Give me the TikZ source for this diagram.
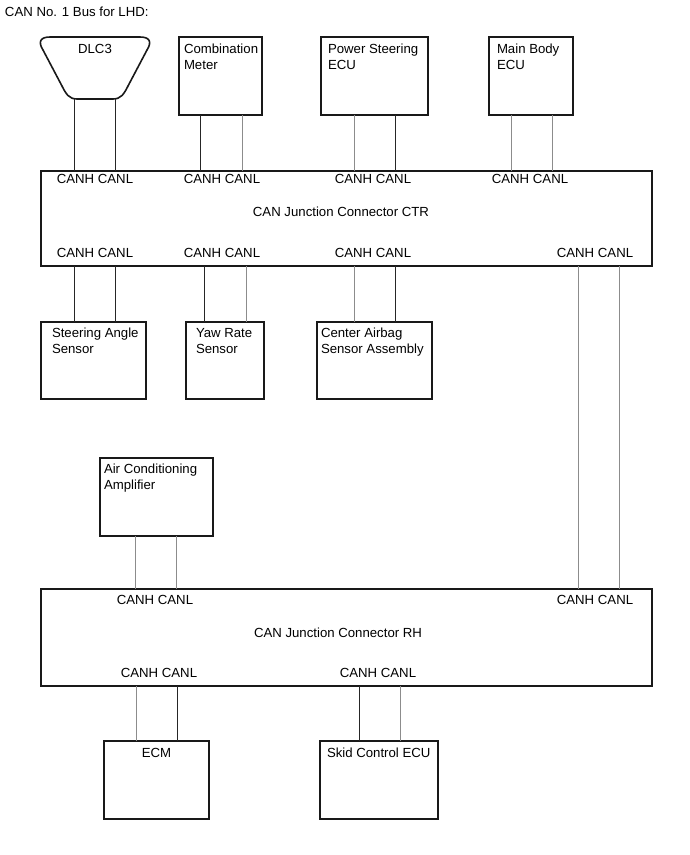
\documentclass[tikz,border=0pt]{standalone}
\usepackage{fontspec}
\setmainfont{Liberation Sans}
\begin{document}
\begin{tikzpicture}[x=1pt,y=-1pt,
  box/.style={draw=black!90, line width=1.6pt, rectangle, inner sep=0pt, outer sep=0pt, anchor=north west},
  txt/.style={inner sep=0pt, outer sep=0pt, font=\fontsize{13.2}{16}\selectfont, align=left},
  pin/.style={inner sep=0pt, outer sep=0pt, font=\fontsize{13.2}{16}\selectfont, anchor=north},
  wk/.style={draw=black!85, line width=0.9pt},
  wg/.style={draw=black!45, line width=0.9pt}]
\useasboundingbox (0,0) rectangle (690,855);

\node[txt, anchor=north west] (title) at (5,7) {CAN No. 1 Bus for LHD:};

% DLC3
\draw[draw=black!90, line width=1.6pt] (50,37) -- (140,37)
  .. controls (150,37) and (152,42) .. (147,50) -- (128,86)
  .. controls (124,94) and (121,99) .. (113,99) -- (77,99)
  .. controls (69,99) and (66,94) .. (62,86) -- (43,50)
  .. controls (38,42) and (40,37) .. (50,37) -- cycle;
\coordinate (dlc) at (95,99);
\node[txt, anchor=north] (dlct) at (95,44) {DLC3};

% top row boxes
\node[box, minimum width=83, minimum height=78] (comb) at (179,37) {};
\node[txt, anchor=north west] (combt) at (184,44) {Combination\\Meter};
\node[box, minimum width=107, minimum height=78] (ps) at (321,37) {};
\node[txt, anchor=north west] (pst) at (328,44) {Power Steering\\ECU};
\node[box, minimum width=84, minimum height=78] (mb) at (489,37) {};
\node[txt, anchor=north west] (mbt) at (497,44) {Main Body\\ECU};

% CTR junction
\node[box, minimum width=611, minimum height=95] (ctr) at (41,171) {};
\node[pin] (c1) at (95,174) {CANH\ CANL};
\node[pin] (c2) at (222,174) {CANH\ CANL};
\node[pin] (c3) at (373,174) {CANH\ CANL};
\node[pin] (c4) at (530,174) {CANH\ CANL};
\node[pin] (ctrt) at (341,207) {CAN Junction Connector CTR};
\node[pin] (c5) at (95,248) {CANH\ CANL};
\node[pin] (c6) at (222,248) {CANH\ CANL};
\node[pin] (c7) at (373,248) {CANH\ CANL};
\node[pin] (c8) at (595,248) {CANH\ CANL};

% sensors row
\node[box, minimum width=105, minimum height=77] (sas) at (41,322) {};
\node[txt, anchor=north west] (sast) at (52,328) {Steering Angle\\Sensor};
\node[box, minimum width=78, minimum height=77] (yaw) at (186,322) {};
\node[txt, anchor=north west] (yawt) at (196,328) {Yaw Rate\\Sensor};
\node[box, minimum width=115, minimum height=77] (cab) at (317,322) {};
\node[txt, anchor=north west] (cabt) at (321,328) {Center Airbag\\Sensor Assembly};

% AC amplifier
\node[box, minimum width=113, minimum height=78] (ac) at (100,458) {};
\node[txt, anchor=north west] (act) at (104,464) {Air Conditioning\\Amplifier};

% RH junction
\node[box, minimum width=611, minimum height=97] (rh) at (41,589) {};
\node[pin] (r1) at (155,595) {CANH\ CANL};
\node[pin] (r2) at (595,595) {CANH\ CANL};
\node[pin] (rht) at (338,628) {CAN Junction Connector RH};
\node[pin] (r3) at (159,668) {CANH\ CANL};
\node[pin] (r4) at (378,668) {CANH\ CANL};

% bottom boxes
\node[box, minimum width=105, minimum height=78] (ecm) at (104,741) {};
\node[pin] (ecmt) at (156.5,748) {ECM};
\node[box, minimum width=118, minimum height=78] (skid) at (320,741) {};
\node[txt, anchor=north west] (skidt) at (327,748) {Skid Control ECU};

% wires
\draw[wk] (dlc -| 74,0) -- (ctr.north -| 74,0);
\draw[wk] (dlc -| 115,0) -- (ctr.north -| 115,0);
\draw[wk] (comb.south -| 200,0) -- (ctr.north -| 200,0);
\draw[wg] (comb.south -| 242,0) -- (ctr.north -| 242,0);
\draw[wg] (ps.south -| 354,0) -- (ctr.north -| 354,0);
\draw[wk] (ps.south -| 395,0) -- (ctr.north -| 395,0);
\draw[wg] (mb.south -| 511,0) -- (ctr.north -| 511,0);
\draw[wg] (mb.south -| 552,0) -- (ctr.north -| 552,0);

\draw[wk] (ctr.south -| 74,0) -- (sas.north -| 74,0);
\draw[wk] (ctr.south -| 115,0) -- (sas.north -| 115,0);
\draw[wk] (ctr.south -| 204,0) -- (yaw.north -| 204,0);
\draw[wg] (ctr.south -| 246,0) -- (yaw.north -| 246,0);
\draw[wg] (ctr.south -| 354,0) -- (cab.north -| 354,0);
\draw[wk] (ctr.south -| 395,0) -- (cab.north -| 395,0);
\draw[wg] (ctr.south -| 578,0) -- (rh.north -| 578,0);
\draw[wg] (ctr.south -| 619,0) -- (rh.north -| 619,0);

\draw[wg] (ac.south -| 135,0) -- (rh.north -| 135,0);
\draw[wg] (ac.south -| 176,0) -- (rh.north -| 176,0);

\draw[wg] (rh.south -| 136,0) -- (ecm.north -| 136,0);
\draw[wk] (rh.south -| 177,0) -- (ecm.north -| 177,0);
\draw[wk] (rh.south -| 359,0) -- (skid.north -| 359,0);
\draw[wg] (rh.south -| 400,0) -- (skid.north -| 400,0);
\end{tikzpicture}
\end{document}
